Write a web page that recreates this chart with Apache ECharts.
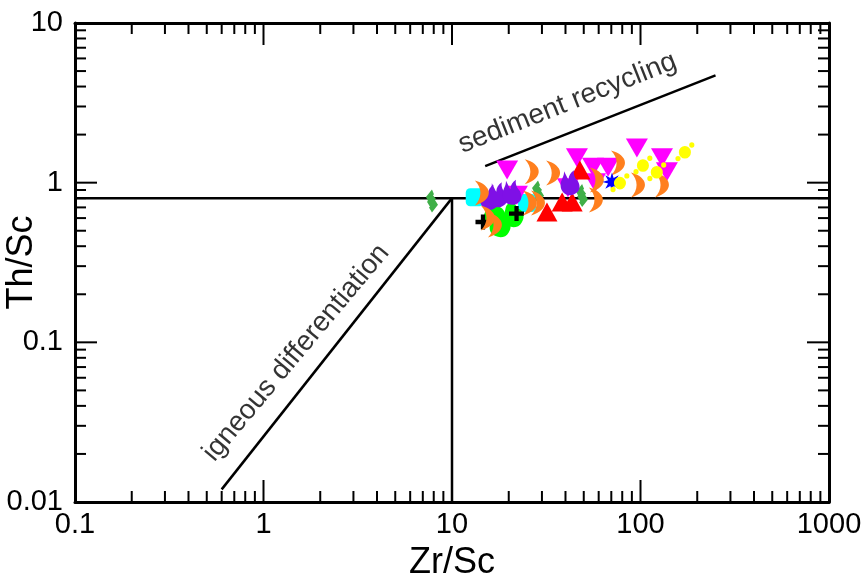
<!DOCTYPE html>
<html>
<head>
<meta charset="utf-8">
<title>Th/Sc vs Zr/Sc</title>
<script src="https://cdn.jsdelivr.net/npm/echarts@6.0.0/dist/echarts.min.js"></script>
<style>
  html, body { margin: 0; padding: 0; background: #fff; }
  #chart { width: 861px; height: 578px; }
</style>
</head>
<body>
<div id="chart"></div>
<script>
// Sample groups: [Zr/Sc, Th/Sc]
const magentaTriDown = [[19.6,1.20],[46.0,1.43],[56.0,1.25],[67.3,1.25],[95.7,1.65],[130,1.43],[138,1.17],[41.2,0.93],[57.4,1.00],[22.1,0.835]];
const redTriUp = [[47.7,1.20],[31.9,0.656],[38.4,0.757],[43.4,0.757]];
const cyanSquare = [[13.2,0.81],[25.0,0.746]];
const blackCross = [[14.6,0.567],[22.0,0.64]];
const greenDiamond = [[7.83,0.769],[28.6,0.875],[49.0,0.83]];
const purpleFlame = [[15.8,0.81],[17.5,0.84],[20.8,0.87],[42.3,1.00]];
const limeBlob = [[18.0,0.545],[21.1,0.63],[16.8,0.645]];
const orangeCrescent = [[26.5,1.17],[34.4,1.15],[14.4,0.863],[16.9,0.544],[15.5,0.60],[25.9,0.746],[28.6,0.746],[58.7,1.04],[58.0,0.78],[76.0,1.33],[97.0,0.968],[130,0.968]];
const blueStar = [[70.6,1.01]];
const yellowBall = [[172,1.56],[103,1.29],[122,1.17],[77.8,1.00]];

// Reference lines
const thresholdLine = [[0.1,0.8],[1000,0.8]];
const zrCutLine = [[10,0.01],[10,0.8]];
const igneousTrend = [[0.6,0.012],[10,0.8]];
const recyclingTrend = [[15,1.27],[250,4.7]];

// Annotation positions
const annotations = [
  { name: 'sediment recycling', value: [41, 3.15], rotate: 21.6 },
  { name: 'igneous differentiation', value: [1.49, 0.086], rotate: 50 }
];

// Axis ranges and tick labels
const xTickLabels = ['0.1','1','10','100','1000'];
const yTickLabels = ['0.01','0.1','1','10'];
const xRange = [0.1, 1000];
const yRange = [0.01, 10];

function logTicks(lo, hi) {
  const out = [];
  for (let d = lo; d < hi * 1.0001; d *= 10) {
    for (let k = 1; k <= 9; k++) {
      const v = +(d * k).toPrecision(6);
      if (v > hi * 1.0001) break;
      out.push([v, k === 1 ? 1 : 0]);
    }
  }
  return out;
}

function starPath(n, R, r) {
  let s = '';
  for (let i = 0; i < 2 * n; i++) {
    const a = Math.PI * i / n - Math.PI / 2;
    const rad = i % 2 === 0 ? R : r;
    const x = (R + rad * Math.cos(a)).toFixed(2);
    const y = (R + rad * Math.sin(a)).toFixed(2);
    s += (i === 0 ? 'M' : 'L') + x + ',' + y + ' ';
  }
  return 'path://' + s + 'Z';
}

const SYM = {
  triDown: 'path://M0,0 L20,0 L10,17 Z',
  cross: 'path://M5,0 H9 V5 H14 V9 H9 V14 H5 V9 H0 V5 H5 Z',
  crescent: 'path://M1,0 C10,4 12,17 1,23 C5,16 5,7 1,0 Z',
  flame: 'path://M10,24 C3,24 0,18 1,12 C2,8 4,6 4,1 C6,5 7,8 8,9 C8,5 10,2 13,0 C12,4 14,8 16,10 C18,13 19,18 16,21 C14,23 12,24 10,24 Z',
  notchDiamond: 'path://M6,0 L8,5 L7,6 L10,10 L9,11 L12,16 L6,24 L3,19 L4,18 L1,13 L2,12 L0,8 Z',
  blob: 'path://M9,0 C13,1 12,5 15,6 C19,8 20,14 17,18 C15,22 10,23 6,21 C1,19 0,14 2,10 C4,7 3,4 5,2 C6,1 7,0 9,0 Z',
  ball: 'path://M3,12 A7,7 0 1,0 17,12 A7,7 0 1,0 3,12 Z M15,4 A3,3 0 1,0 21,4 A3,3 0 1,0 15,4 Z M-1,19 A3,3 0 1,0 5,19 A3,3 0 1,0 -1,19 Z',
  star: starPath(8, 10, 4.5)
};

const FONT = '"Liberation Sans", Arial, sans-serif';

function scatter(name, data, symbol, size, color, z) {
  return {
    name, type: 'scatter', data, symbol, symbolSize: size,
    itemStyle: { color, opacity: 1 }, z: z || 3, silent: true
  };
}

function refLine(data, width) {
  return {
    type: 'line', data, symbol: 'none', silent: true, z: 2,
    lineStyle: { color: '#000', width: width || 2.5 }
  };
}

const tickX = logTicks(xRange[0], xRange[1]).map(t => [t[0], 1, t[1]]);
const tickY = logTicks(yRange[0], yRange[1]).map(t => [1, t[0], t[1]]);

function renderXTick(params, api) {
  const cs = params.coordSys;
  const px = api.coord([api.value(0), 1])[0];
  const len = api.value(2) ? 22 : 11;
  const bottom = cs.y + cs.height, top = cs.y;
  const style = { stroke: '#000', lineWidth: 2 };
  return { type: 'group', children: [
    { type: 'line', shape: { x1: px, y1: bottom, x2: px, y2: bottom - len }, style },
    { type: 'line', shape: { x1: px, y1: top, x2: px, y2: top + len }, style }
  ]};
}

function renderYTick(params, api) {
  const cs = params.coordSys;
  const py = api.coord([1, api.value(1)])[1];
  const len = api.value(2) ? 22 : 11;
  const left = cs.x, right = cs.x + cs.width;
  const style = { stroke: '#000', lineWidth: 2 };
  return { type: 'group', children: [
    { type: 'line', shape: { x1: left, y1: py, x2: left + len, y2: py }, style },
    { type: 'line', shape: { x1: right, y1: py, x2: right - len, y2: py }, style }
  ]};
}

const frameLine = { show: true, lineStyle: { color: '#000', width: 3 } };

const option = {
  animation: false,
  backgroundColor: '#fff',
  grid: { left: 75, right: 32, top: 23, bottom: 76, containLabel: false, outerBoundsMode: 'none' },
  xAxis: [
    {
      type: 'log', logBase: 10, min: xRange[0], max: xRange[1],
      axisLine: frameLine, axisTick: { show: false }, splitLine: { show: false },
      axisLabel: {
        color: '#000', fontSize: 29, fontFamily: FONT, margin: 8,
        formatter: v => xTickLabels.find(s => Math.abs(+s - v) / v < 1e-6) || ''
      },
      name: 'Zr/Sc', nameLocation: 'middle', nameGap: 43, nameMoveOverlap: false,
      nameTextStyle: { color: '#000', fontSize: 36, fontFamily: FONT }
    },
    {
      type: 'log', logBase: 10, min: xRange[0], max: xRange[1], position: 'top',
      axisLine: frameLine, axisTick: { show: false }, splitLine: { show: false },
      axisLabel: { show: false }
    }
  ],
  yAxis: [
    {
      type: 'log', logBase: 10, min: yRange[0], max: yRange[1],
      axisLine: frameLine, axisTick: { show: false }, splitLine: { show: false },
      axisLabel: {
        color: '#000', fontSize: 29, fontFamily: FONT, margin: 12,
        formatter: v => yTickLabels.find(s => Math.abs(+s - v) / v < 1e-6) || ''
      },
      name: 'Th/Sc', nameLocation: 'middle', nameGap: 35, nameMoveOverlap: false,
      nameTextStyle: { color: '#000', fontSize: 36, fontFamily: FONT }
    },
    {
      type: 'log', logBase: 10, min: yRange[0], max: yRange[1], position: 'right',
      axisLine: frameLine, axisTick: { show: false }, splitLine: { show: false },
      axisLabel: { show: false }
    }
  ],
  series: [
    { type: 'custom', data: tickX, renderItem: renderXTick, clip: false, silent: true, z: 1 },
    { type: 'custom', data: tickY, renderItem: renderYTick, clip: false, silent: true, z: 1 },
    refLine(thresholdLine, 2.5),
    refLine(zrCutLine, 2.5),
    refLine(igneousTrend, 2.5),
    refLine(recyclingTrend, 2.5),
    scatter('cyan', cyanSquare, 'roundRect', [18, 18], '#00ffff', 3),
    scatter('diamond', greenDiamond, SYM.notchDiamond, [12, 23], '#3faf48', 4),
    scatter('magenta', magentaTriDown, SYM.triDown, [22, 19], '#ff00ff', 4),
    scatter('red', redTriUp, 'triangle', [21, 19], '#ff0000', 4),
    scatter('lime', limeBlob, SYM.blob, [21, 25], '#00ff00', 5),
    scatter('cross', blackCross, SYM.cross, [15, 15], '#000000', 5),
    scatter('purple', purpleFlame, SYM.flame, [19, 25], '#7f10e6', 5),
    scatter('orange', orangeCrescent, SYM.crescent, [14, 25], '#ff7f1e', 6),
    scatter('star', blueStar, SYM.star, [19, 19], '#0000ff', 7),
    scatter('yellow', yellowBall, SYM.ball, [19, 19], '#ffff00', 7),
    {
      type: 'scatter', symbolSize: 1, silent: true, z: 8,
      itemStyle: { color: 'rgba(0,0,0,0)' },
      label: {
        show: true, position: 'inside', color: '#000', fontSize: 28, fontFamily: FONT,
        textBorderWidth: 0, textShadowBlur: 0,
        formatter: p => p.name
      },
      data: annotations.map(a => ({ name: a.name, value: a.value, label: { rotate: a.rotate } }))
    }
  ]
};

const chart = echarts.init(document.getElementById('chart'), null, { renderer: 'canvas' });
chart.setOption(option);
</script>
</body>
</html>
